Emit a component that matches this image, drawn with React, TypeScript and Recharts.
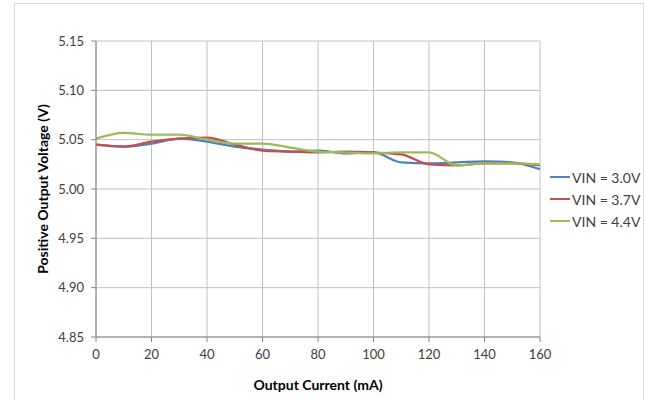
import React from 'react';
import {
  LineChart,
  Line,
  XAxis,
  YAxis,
  CartesianGrid,
} from 'recharts';

// output current (mA)
const current = [0, 10, 20, 30, 40, 50, 60, 70, 80, 90, 100, 110, 120, 130, 140, 150, 160];

// positive output voltage (V) per input voltage
const vin30 = [5.045, 5.043, 5.046, 5.051, 5.048, 5.043, 5.040, 5.038, 5.039, 5.036, 5.037, 5.027, 5.026, 5.027, 5.028, 5.027, 5.020];
const vin37 = [5.045, 5.043, 5.048, 5.051, 5.052, 5.045, 5.039, 5.038, 5.037, 5.038, 5.037, 5.035, 5.025, 5.024, 5.026, 5.026, 5.024];
const vin44 = [5.051, 5.057, 5.055, 5.055, 5.050, 5.046, 5.046, 5.042, 5.038, 5.037, 5.036, 5.037, 5.037, 5.024, 5.026, 5.026, 5.025];

const xTicks = [0, 20, 40, 60, 80, 100, 120, 140, 160];
const yTicks = [4.85, 4.9, 4.95, 5.0, 5.05, 5.1, 5.15];

const series = [
  { key: 'vin30', name: 'VIN = 3.0V', color: '#4F81BD' },
  { key: 'vin37', name: 'VIN = 3.7V', color: '#C0504D' },
  { key: 'vin44', name: 'VIN = 4.4V', color: '#9BBB59' },
];

const chartData = current.map((c, i) => ({
  current: c,
  vin30: vin30[i],
  vin37: vin37[i],
  vin44: vin44[i],
}));

const FONT = 'Lato, "Open Sans", sans-serif';

// legend drawn beside the plot, like the Excel original
const SideLegend = () => (
  <div
    style={{
      position: 'absolute',
      left: 550,
      top: 166,
      fontFamily: FONT,
      fontSize: 14,
      color: '#404040',
    }}
  >
    {series.map((s) => (
      <div key={s.key} style={{ display: 'flex', alignItems: 'center', height: 22 }}>
        <div style={{ width: 20, height: 2, background: s.color, marginRight: 2 }} />
        <span>{s.name}</span>
      </div>
    ))}
  </div>
);

const App: React.FC = () => {
  return (
    <div style={{ position: 'absolute', left: 0, top: 0, width: 645, height: 400, background: '#fff', overflow: 'hidden' }}>
      <div
        style={{
          position: 'absolute',
          left: 14,
          top: 3,
          width: 628,
          height: 420,
          border: '1px solid #d9d9d9',
        }}
      />
      <LineChart
        width={645}
        height={400}
        data={chartData}
        margin={{ top: 41, right: 105, left: 0, bottom: 0 }}
        style={{ fontFamily: FONT }}
      >
        <CartesianGrid stroke="#c0c0c0" strokeWidth={1} />
        <XAxis
          dataKey="current"
          type="number"
          domain={[0, 160]}
          ticks={xTicks}
          interval={0}
          height={63}
          tickSize={5}
          tickMargin={8}
          stroke="#868686"
          tick={{ fill: '#404040', fontSize: 13 }}
          label={{
            content: () => (
              <text x={318} y={390} textAnchor="middle" fill="#000" fontSize={14} fontWeight="bold" fontFamily={FONT}>
                Output Current (mA)
              </text>
            ),
          }}
        />
        <YAxis
          type="number"
          domain={[4.85, 5.15]}
          ticks={yTicks}
          interval={0}
          width={96}
          tickSize={5}
          tickMargin={7}
          stroke="#868686"
          tickFormatter={(v: number) => v.toFixed(2)}
          tick={{ fill: '#404040', fontSize: 13 }}
          label={{
            content: () => (
              <text
                x={44}
                y={189}
                textAnchor="middle"
                dominantBaseline="middle"
                transform="rotate(-90 44 189)"
                fill="#000"
                fontSize={14}
                fontWeight="bold"
                fontFamily={FONT}
              >
                Positive Output Voltage (V)
              </text>
            ),
          }}
        />
        {series.map((s) => (
          <Line
            key={s.key}
            type="monotone"
            dataKey={s.key}
            name={s.name}
            stroke={s.color}
            strokeWidth={2.25}
            dot={false}
            isAnimationActive={false}
          />
        ))}
      </LineChart>
      <SideLegend />
    </div>
  );
};

export default App;
